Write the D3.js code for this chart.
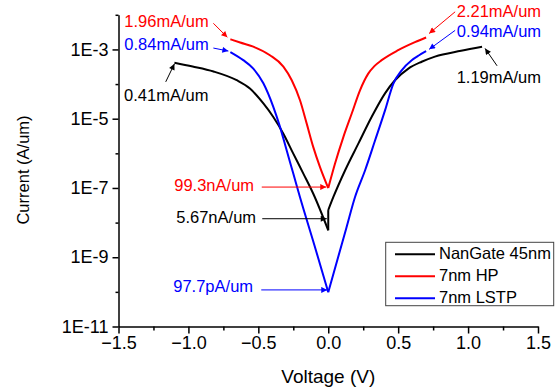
<!DOCTYPE html>
<html>
<head>
<meta charset="utf-8">
<script src="https://cdn.jsdelivr.net/npm/d3@7"></script>
<style>
body { margin: 0; background: #fff; }
text { font-family: "Liberation Sans", Arial, sans-serif; }
</style>
</head>
<body>
<svg id="chart" width="555" height="392"></svg>
<script>
// series names / colours
var seriesNames = ["NanGate 45nm", "7nm HP", "7nm LSTP"];
var seriesColors = ["#000000", "#ff0000", "#0000ff"];

// NanGate 45nm (left branch ends at the floor, right branch starts higher)
var blackLeftV = [-1.1, -0.97, -0.82, -0.655, -0.56, -0.464, -0.393, -0.321, -0.25, -0.178, -0.107, 0];
var blackLeftI = [4.1e-4, 3.2e-4, 2.3e-4, 1.29e-4, 7.4e-5, 2.75e-5, 1.12e-5, 3.7e-6, 9.8e-7, 2.6e-7, 6.8e-8, 6.0e-9];
var blackRightV = [0, 0.036, 0.12, 0.215, 0.31, 0.406, 0.477, 0.573, 0.668, 0.763, 0.95, 1.1];
var blackRightI = [2.3e-8, 5.4e-8, 3.2e-7, 1.9e-6, 1.12e-5, 5.4e-5, 1.29e-4, 2.8e-4, 4.4e-4, 6.2e-4, 9.1e-4, 1.19e-3];

// 7nm HP
var redLeftV = [-0.7, -0.63, -0.536, -0.417, -0.321, -0.261, -0.202, -0.154, -0.107, -0.059, 0];
var redLeftI = [1.96e-3, 1.58e-3, 1.2e-3, 6.8e-4, 3.2e-4, 1.29e-4, 3.4e-5, 7.2e-6, 1.51e-6, 4.0e-7, 9.93e-8];
var redRightV = [0, 0.048, 0.108, 0.168, 0.227, 0.286, 0.33, 0.382, 0.50, 0.62, 0.7];
var redRightI = [9.93e-8, 5.0e-7, 2.95e-6, 1.41e-5, 6.6e-5, 2.0e-4, 3.3e-4, 4.9e-4, 9.5e-4, 1.62e-3, 2.21e-3];

// 7nm LSTP
var blueLeftV = [-0.7, -0.608, -0.536, -0.464, -0.393, -0.345, -0.297, -0.25, -0.202, -0.1, 0];
var blueLeftI = [8.4e-4, 4.9e-4, 2.8e-4, 1.05e-4, 2.2e-5, 5.8e-6, 1.2e-6, 2.6e-7, 5.4e-8, 2.3e-9, 9.77e-11];
var blueRightV = [0, 0.13, 0.191, 0.263, 0.334, 0.406, 0.465, 0.525, 0.597, 0.65, 0.7];
var blueRightI = [9.77e-11, 7.1e-9, 5.4e-8, 3.2e-7, 2.3e-6, 1.74e-5, 1.02e-4, 2.5e-4, 4.9e-4, 6.8e-4, 8.9e-4];

// ticks
var xMajorTicks = [-1.5, -1.0, -0.5, 0.0, 0.5, 1.0, 1.5];
var xMinorTicks = [-1.25, -0.75, -0.25, 0.25, 0.75, 1.25];
var yMajorTicks = [1e-3, 1e-5, 1e-7, 1e-9, 1e-11];
var yMinorTicks = [1e-2, 1e-4, 1e-6, 1e-8, 1e-10];

// annotations: label, series, point it marks
var annoText = ["1.96mA/um", "0.84mA/um", "0.41mA/um", "2.21mA/um", "0.94mA/um", "1.19mA/um", "99.3nA/um", "5.67nA/um", "97.7pA/um"];
var annoSeries = [1, 2, 0, 1, 2, 0, 1, 0, 2];
var annoV = [-0.7, -0.7, -1.1, 0.7, 0.7, 1.1, 0, 0, 0];
var annoI = [1.96e-3, 0.84e-3, 0.41e-3, 2.21e-3, 0.94e-3, 1.19e-3, 99.3e-9, 5.67e-9, 97.7e-12];

// layout of the annotations, px offsets from the marked point: tip, tail, text
var annoLayout = [
	{ tip: [-3, -2], tail: [-17, -16], txt: [-106, -17] },
	{ tip: [-2, -1], tail: [-17, -4], txt: [-106, -6.5] },
	{ tip: [0, 1], tail: [-8.7, 19], txt: [-50.4, 34] },
	{ tip: [3, -4], tail: [29, -25.7], txt: [30.6, -25] },
	{ tip: [3, -1], tail: [29, -20], txt: [30.6, -17.7] },
	{ tip: [3, 1.6], tail: [15, 19], txt: [-25.4, 31.6] },
	{ tip: [-2, -1], tail: [-66.5, -1], txt: [-154, -1.5] },
	{ tip: [-1.5, -12.4], tail: [-66, -12.4], txt: [-152, -12.4] },
	{ tip: [-1, -2.3], tail: [-67, -2.3], txt: [-155, -4.3] }
];

var svg = d3.select("#chart");

var x = d3.scaleLinear().domain([-1.5, 1.5]).range([118.5, 538]);
var y = d3.scaleLog().domain([1e-11, 1e-2]).range([326.5, 14.8]);

var branches = [
	[blackLeftV, blackLeftI, blackRightV, blackRightI],
	[redLeftV, redLeftI, redRightV, redRightI],
	[blueLeftV, blueLeftI, blueRightV, blueRightI]
];

function pts(vs, is) {
	return vs.map(function (v, i) { return [x(v), y(is[i])]; });
}

var smooth = d3.line().curve(d3.curveMonotoneX);
var straight = d3.line();

// draw curves, black first so the coloured ones sit on top like the original
[0, 1, 2].forEach(function (s) {
	var b = branches[s];
	var left = pts(b[0], b[1]), right = pts(b[2], b[3]);
	var g = svg.append("g")
		.attr("fill", "none")
		.attr("stroke", seriesColors[s])
		.attr("stroke-width", 2)
		.attr("stroke-linejoin", "round")
		.attr("stroke-linecap", "butt");
	g.append("path").attr("d", smooth(left));
	g.append("path").attr("d", smooth(right));
	g.append("path").attr("d", straight([left[left.length - 1], right[0]]));
});

// axes
svg.append("g")
	.attr("transform", "translate(0,326.5)")
	.call(d3.axisBottom(x).tickValues(xMajorTicks).tickFormat(d3.format(".1f")).tickSize(7).tickSizeOuter(0).tickPadding(3));
svg.append("g")
	.attr("transform", "translate(0,326.5)")
	.call(d3.axisBottom(x).tickValues(xMinorTicks).tickFormat("").tickSize(4).tickSizeOuter(0))
	.select(".domain").remove();

svg.append("g")
	.attr("transform", "translate(118.5,0)")
	.call(d3.axisLeft(y).tickValues(yMajorTicks)
		.tickFormat(function (d) { return "1E" + Math.round(Math.log10(d)); })
		.tickSize(6).tickSizeOuter(0).tickPadding(4));
svg.append("g")
	.attr("transform", "translate(118.5,0)")
	.call(d3.axisLeft(y).tickValues(yMinorTicks).tickFormat("").tickSize(3).tickSizeOuter(0))
	.select(".domain").remove();

svg.selectAll(".tick line, .domain").attr("stroke", "#000").attr("stroke-width", 1.5);
svg.selectAll(".tick text")
	.attr("fill", "#000")
	.style("font-size", "18px")
	.style("font-family", "'Liberation Sans', Arial, sans-serif");

// axis titles
svg.append("text")
	.attr("x", 328.3).attr("y", 378)
	.attr("text-anchor", "middle").attr("dominant-baseline", "middle")
	.style("font-size", "19px")
	.text("Voltage (V)");
svg.append("text")
	.attr("transform", "translate(25,170) rotate(-90)")
	.attr("text-anchor", "middle").attr("dominant-baseline", "middle")
	.style("font-size", "16.5px")
	.text("Current (A/um)");

// arrow markers
var defs = svg.append("defs");
seriesColors.forEach(function (c, i) {
	defs.append("marker")
		.attr("id", "arr" + i)
		.attr("viewBox", "0 0 10 10")
		.attr("refX", 10).attr("refY", 5)
		.attr("markerUnits", "userSpaceOnUse")
		.attr("markerWidth", 9).attr("markerHeight", 6)
		.attr("orient", "auto")
		.append("path")
		.attr("d", "M0,0L10,5L0,10z")
		.attr("fill", c);
});

// annotations
annoText.forEach(function (t, i) {
	var px = x(annoV[i]), py = y(annoI[i]);
	var L = annoLayout[i], s = annoSeries[i];
	svg.append("line")
		.attr("x1", px + L.tail[0]).attr("y1", py + L.tail[1])
		.attr("x2", px + L.tip[0]).attr("y2", py + L.tip[1])
		.attr("stroke", seriesColors[s]).attr("stroke-width", 1)
		.attr("marker-end", "url(#arr" + s + ")");
	svg.append("text")
		.attr("x", px + L.txt[0]).attr("y", py + L.txt[1])
		.attr("dominant-baseline", "middle")
		.attr("fill", seriesColors[s])
		.style("font-size", "16.5px")
		.text(t);
});

// legend
var legend = svg.append("g");
legend.append("rect")
	.attr("x", 385.7).attr("y", 242.3)
	.attr("width", 168).attr("height", 63.4)
	.attr("fill", "#fff").attr("stroke", "#444").attr("stroke-width", 1);
seriesNames.forEach(function (n, i) {
	var ly = 254.3 + i * 22;
	legend.append("line")
		.attr("x1", 395).attr("x2", 435).attr("y1", ly).attr("y2", ly)
		.attr("stroke", seriesColors[i]).attr("stroke-width", 2);
	legend.append("text")
		.attr("x", 439).attr("y", ly)
		.attr("dominant-baseline", "middle")
		.style("font-size", "16.5px")
		.text(n);
});
</script>
</body>
</html>
